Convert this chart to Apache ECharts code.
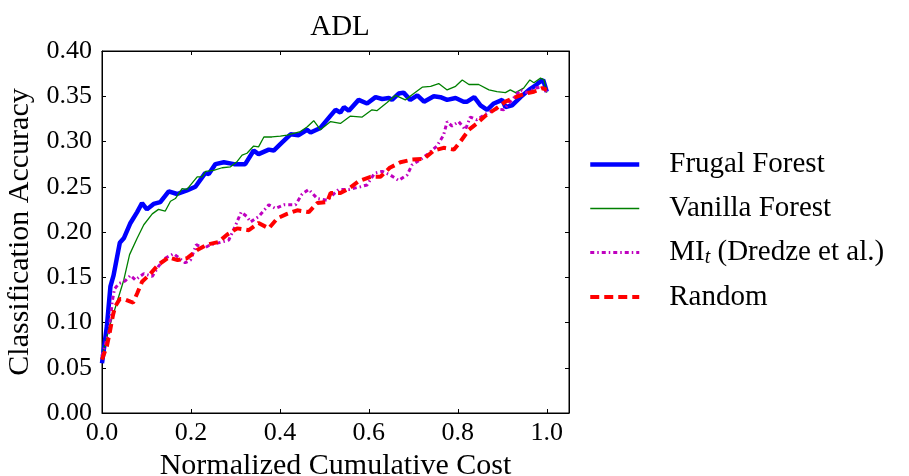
<!DOCTYPE html>
<html>
<head>
<meta charset="utf-8">
<script src="https://cdn.jsdelivr.net/npm/echarts@6/dist/echarts.min.js"></script>
<style>
  html, body { margin: 0; padding: 0; background: #fff; }
  #main { width: 909px; height: 476px; }
</style>
</head>
<body>
<div id="main"></div>
<script>
// 数据：从图中读出
var frugalX = [0, 0.011, 0.019, 0.026, 0.04, 0.049, 0.064, 0.079, 0.09, 0.101, 0.116, 0.131, 0.15, 0.169, 0.191, 0.21, 0.232, 0.24, 0.255, 0.274, 0.297, 0.322, 0.341, 0.352, 0.375, 0.386, 0.405, 0.424, 0.442, 0.461, 0.469, 0.491, 0.513, 0.525, 0.536, 0.544, 0.555, 0.577, 0.596, 0.615, 0.63, 0.645, 0.652, 0.667, 0.678, 0.693, 0.709, 0.724, 0.746, 0.761, 0.776, 0.795, 0.813, 0.821, 0.837, 0.851, 0.866, 0.881, 0.9, 0.907, 0.922, 0.941, 0.96, 0.975, 0.982, 0.992, 1.0];
var frugalY = [0.055, 0.096, 0.14, 0.152, 0.188, 0.193, 0.21, 0.222, 0.232, 0.225, 0.231, 0.233, 0.245, 0.242, 0.246, 0.25, 0.265, 0.264, 0.275, 0.277, 0.275, 0.275, 0.29, 0.286, 0.291, 0.29, 0.299, 0.308, 0.307, 0.313, 0.31, 0.315, 0.328, 0.335, 0.332, 0.338, 0.334, 0.346, 0.342, 0.349, 0.347, 0.348, 0.346, 0.353, 0.354, 0.346, 0.351, 0.344, 0.35, 0.349, 0.346, 0.348, 0.344, 0.344, 0.349, 0.34, 0.335, 0.342, 0.346, 0.338, 0.34, 0.349, 0.357, 0.362, 0.365, 0.368, 0.355];

var vanillaX = [0, 0.019, 0.034, 0.049, 0.062, 0.079, 0.094, 0.113, 0.127, 0.142, 0.154, 0.165, 0.18, 0.191, 0.214, 0.225, 0.233, 0.251, 0.27, 0.289, 0.304, 0.315, 0.326, 0.341, 0.352, 0.364, 0.382, 0.401, 0.416, 0.431, 0.446, 0.461, 0.476, 0.491, 0.514, 0.536, 0.558, 0.585, 0.607, 0.618, 0.641, 0.66, 0.682, 0.701, 0.72, 0.739, 0.757, 0.776, 0.795, 0.81, 0.825, 0.847, 0.87, 0.888, 0.907, 0.918, 0.93, 0.948, 0.962, 0.971, 0.986, 0.994, 1.0];
var vanillaY = [0.063, 0.099, 0.123, 0.147, 0.175, 0.193, 0.208, 0.22, 0.225, 0.223, 0.234, 0.237, 0.248, 0.247, 0.261, 0.261, 0.267, 0.268, 0.271, 0.272, 0.278, 0.285, 0.287, 0.295, 0.294, 0.305, 0.305, 0.306, 0.307, 0.309, 0.311, 0.316, 0.323, 0.313, 0.322, 0.32, 0.328, 0.327, 0.335, 0.334, 0.343, 0.351, 0.346, 0.353, 0.36, 0.361, 0.364, 0.357, 0.361, 0.368, 0.363, 0.363, 0.357, 0.355, 0.354, 0.357, 0.354, 0.359, 0.368, 0.365, 0.37, 0.368, 0.354];

var miX = [0, 0.008, 0.015, 0.019, 0.023, 0.028, 0.038, 0.052, 0.064, 0.075, 0.094, 0.113, 0.127, 0.142, 0.161, 0.187, 0.199, 0.212, 0.229, 0.244, 0.262, 0.285, 0.3, 0.313, 0.326, 0.334, 0.352, 0.375, 0.39, 0.409, 0.435, 0.45, 0.465, 0.484, 0.506, 0.532, 0.555, 0.581, 0.596, 0.613, 0.63, 0.648, 0.667, 0.686, 0.697, 0.716, 0.735, 0.753, 0.768, 0.776, 0.787, 0.802, 0.817, 0.828, 0.843, 0.858, 0.873, 0.888, 0.903, 0.922, 0.941, 0.956, 0.975, 0.99, 1.0];
var miY = [0.063, 0.077, 0.088, 0.105, 0.123, 0.137, 0.143, 0.146, 0.152, 0.147, 0.154, 0.151, 0.162, 0.171, 0.176, 0.166, 0.169, 0.186, 0.182, 0.186, 0.188, 0.191, 0.207, 0.222, 0.217, 0.211, 0.217, 0.23, 0.226, 0.23, 0.23, 0.242, 0.247, 0.237, 0.235, 0.247, 0.247, 0.25, 0.252, 0.265, 0.267, 0.263, 0.257, 0.263, 0.274, 0.28, 0.287, 0.295, 0.307, 0.322, 0.317, 0.322, 0.313, 0.327, 0.324, 0.329, 0.333, 0.336, 0.335, 0.346, 0.357, 0.354, 0.359, 0.36, 0.355];

var randomX = [0, 0.011, 0.017, 0.025, 0.03, 0.04, 0.049, 0.064, 0.07, 0.079, 0.09, 0.109, 0.127, 0.15, 0.17, 0.191, 0.214, 0.236, 0.262, 0.281, 0.304, 0.33, 0.352, 0.375, 0.394, 0.416, 0.439, 0.465, 0.484, 0.506, 0.514, 0.536, 0.555, 0.577, 0.604, 0.626, 0.647, 0.671, 0.697, 0.724, 0.746, 0.768, 0.791, 0.806, 0.825, 0.843, 0.866, 0.885, 0.907, 0.93, 0.952, 0.971, 0.99, 1.0];
var randomY = [0.059, 0.074, 0.088, 0.109, 0.118, 0.126, 0.126, 0.123, 0.122, 0.132, 0.145, 0.154, 0.164, 0.172, 0.169, 0.171, 0.18, 0.186, 0.189, 0.197, 0.204, 0.202, 0.21, 0.204, 0.215, 0.22, 0.224, 0.222, 0.232, 0.233, 0.243, 0.243, 0.248, 0.256, 0.261, 0.261, 0.271, 0.277, 0.28, 0.281, 0.29, 0.293, 0.291, 0.3, 0.313, 0.32, 0.33, 0.336, 0.344, 0.349, 0.353, 0.355, 0.359, 0.357];

var seriesNames = ['Frugal Forest', 'Vanilla Forest', 'MI_t', 'Random'];

function pairs(xs, ys) {
    var out = [];
    for (var i = 0; i < xs.length; i++) out.push([xs[i], ys[i]]);
    return out;
}

var FONT = 'Liberation Serif';
var dom = document.getElementById('main');
var myChart = echarts.init(dom, null, { renderer: 'canvas' });

function xAxisOf(extra) {
    return echarts.util.merge({
        type: 'value', min: 0, max: 1.05, interval: 0.2,
        splitLine: { show: false },
        axisLine: { show: true, onZero: false, lineStyle: { color: '#000', width: 1 } },
        axisTick: { show: true, inside: true, length: 4, lineStyle: { color: '#000' } }
    }, extra, true);
}
function yAxisOf(extra) {
    return echarts.util.merge({
        type: 'value', min: 0, max: 0.4, interval: 0.05,
        splitLine: { show: false },
        axisLine: { show: true, onZero: false, lineStyle: { color: '#000', width: 1 } },
        axisTick: { show: true, inside: true, length: 4, lineStyle: { color: '#000' } }
    }, extra, true);
}

var option = {
    animation: false,
    backgroundColor: '#fff',
    title: {
        text: 'ADL',
        left: 335, top: 8, textAlign: 'center',
        textStyle: { fontFamily: FONT, fontWeight: 'normal', fontSize: 29, color: '#000' }
    },
    grid: {
        left: 102, top: 51, width: 467, height: 362,
        outerBoundsMode: 'none', containLabel: false,
        show: true, borderColor: '#000', borderWidth: 1, backgroundColor: 'transparent'
    },
    legend: {
        orient: 'vertical',
        left: 588, top: 150, padding: 0,
        itemWidth: 49, itemHeight: 12, itemGap: 15,
        itemStyle: { opacity: 0 },
        data: [
            { name: 'Frugal Forest', lineStyle: { width: 4.5 } },
            { name: 'Vanilla Forest', lineStyle: { width: 1.5 } },
            { name: 'MI_t', lineStyle: { width: 3 } },
            { name: 'Random', lineStyle: { width: 4 } }
        ],
        formatter: function (name) {
            if (name === 'MI_t') return '{n|MI}{s|t}{n| (Dredze et al.)}';
            return '{n|' + name + '}';
        },
        textStyle: {
            fontFamily: FONT, fontSize: 29, color: '#000', padding: [0, 0, 0, 25],
            rich: {
                n: { fontFamily: FONT, fontSize: 29, color: '#000' },
                s: { fontFamily: FONT, fontSize: 20, fontStyle: 'italic', color: '#000', verticalAlign: 'bottom', padding: [10, 0, 0, 0] }
            }
        }
    },
    xAxis: [
        xAxisOf({
            position: 'bottom',
            name: 'Normalized Cumulative Cost', nameLocation: 'middle', nameGap: 33,
            nameTextStyle: { fontFamily: FONT, fontSize: 30, color: '#000' },
            axisLabel: {
                fontFamily: FONT, fontSize: 26, color: '#000', margin: 7,
                formatter: function (v) {
                    return Math.abs(v * 5 - Math.round(v * 5)) < 1e-6 ? v.toFixed(1) : '';
                }
            }
        }),
        xAxisOf({ position: 'top', axisLabel: { show: false } })
    ],
    yAxis: [
        yAxisOf({
            position: 'left',
            name: 'Classification Accuracy', nameLocation: 'middle', nameGap: 64,
            nameTextStyle: { fontFamily: FONT, fontSize: 30, color: '#000' },
            axisLabel: {
                fontFamily: FONT, fontSize: 26, color: '#000', margin: 10,
                formatter: function (v) { return v.toFixed(2); }
            }
        }),
        yAxisOf({ position: 'right', axisLabel: { show: false } })
    ],
    series: [
        {
            name: 'Frugal Forest', type: 'line', symbol: 'none', data: pairs(frugalX, frugalY),
            lineStyle: { color: '#0000ff', width: 4.5 }, itemStyle: { color: '#0000ff' }
        },
        {
            name: 'Vanilla Forest', type: 'line', symbol: 'none', data: pairs(vanillaX, vanillaY),
            lineStyle: { color: '#008000', width: 1.3 }, itemStyle: { color: '#008000' }
        },
        {
            name: 'MI_t', type: 'line', symbol: 'none', data: pairs(miX, miY),
            lineStyle: { color: '#bf00bf', width: 3, type: [4, 3, 1.5, 3] }, itemStyle: { color: '#bf00bf' }
        },
        {
            name: 'Random', type: 'line', symbol: 'none', data: pairs(randomX, randomY),
            lineStyle: { color: '#ff0000', width: 4, type: [9, 5] }, itemStyle: { color: '#ff0000' }
        },
        // 空系列：让上方和右侧的坐标轴也画出刻度
        { name: 'frame', type: 'line', xAxisIndex: 1, yAxisIndex: 1, data: [], silent: true }
    ]
};
myChart.setOption(option);
window.onresize = myChart.resize;
</script>
</body>
</html>
